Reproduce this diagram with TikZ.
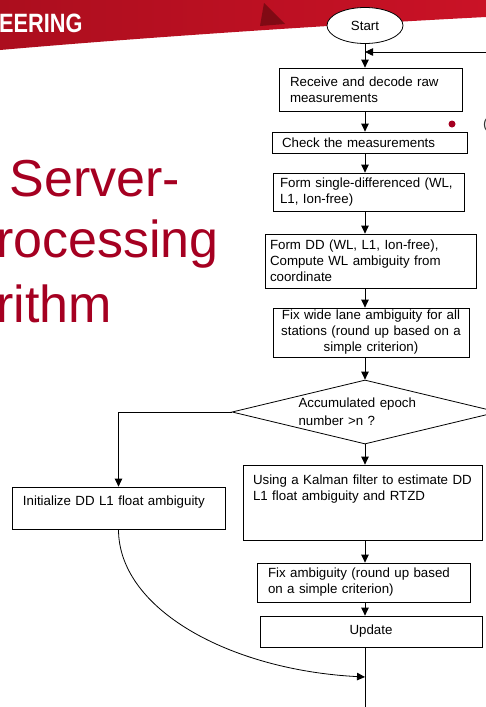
\documentclass[tikz,border=0pt]{standalone}
\usepackage{fontspec}
\setmainfont{Liberation Sans}
\usetikzlibrary{shapes.geometric, arrows.meta}

\definecolor{bannerred}{RGB}{202,18,38}
\definecolor{bannerleft}{RGB}{172,14,30}
\definecolor{bannerdark}{RGB}{128,10,20}
\definecolor{titlered}{RGB}{165,0,33}

\begin{document}
\begin{tikzpicture}[x = 1pt, y = 1pt,
	box/.style = {draw, rectangle, fill = white, line width = 0.8pt, inner sep = 0pt, align = left, font = \fontsize{13.3}{16}\selectfont},
	flow/.style = {line width = 0.8pt, -{Triangle[length = 8pt, width = 7.5pt]}},
	heading/.style = {anchor = base west, inner sep = 0pt, text = titlered, font = \fontsize{52}{60}\selectfont}]
	\useasboundingbox (0, 0) rectangle (486, -707);
	% slide banner and title
	\shade[left color = bannerleft, right color = bannerred] (0, 0) -- (486, 0) -- (486, -17) .. controls (350, -24) and (160, -36) .. (0, -50) -- cycle;
	\fill[bannerdark] (264, -3) -- (285, -24) -- (260, -26) -- cycle;
	\node[anchor = base west, inner sep = 0pt, text = white, font = \fontsize{26.5}{30}\selectfont\bfseries, xscale = 0.82, transform shape] (brand) at (-1, -32) {EERING};
	\node[heading] (title1) at (9.5, -196) {Server-};
	\node[heading] (title2) at (-4, -257) {rocessing};
	\node[heading] (title3) at (-4, -322) {rithm};
	\fill[titlered] (452, -124) circle (3.5);
	\node[anchor = base west, inner sep = 0pt, text = black!80, font = \fontsize{14}{16}\selectfont] (bullet) at (483, -128) {(};

	% flow chart
	\node[box, shape = ellipse, align = center, minimum width = 76pt, minimum height = 36pt] (start) at (365, -25.5) {Start};
	\node[box, minimum width = 183pt, minimum height = 43pt, text width = 161pt] (recv) at (370.5, -89.5) {Receive and decode raw\\measurements};
	\node[box, minimum width = 195pt, minimum height = 21pt, text width = 175pt] (chk) at (369.5, -142.5) {Check the measurements};
	\node[box, minimum width = 191pt, minimum height = 38pt, text width = 177pt] (sd) at (368.5, -192) {Form single-differenced (WL,\\L1, Ion-free)};
	\node[box, minimum width = 211pt, minimum height = 54pt, text width = 201pt] (dd) at (370.5, -261) {Form DD (WL, L1, Ion-free),\\Compute WL ambiguity from\\coordinate};
	\node[box, align = center, minimum width = 196pt, minimum height = 49pt, text width = 188pt] (fixwl) at (371, -332.5) {Fix wide lane ambiguity for all\\stations (round up based on a\\simple criterion)};
	\node[box, shape = diamond, aspect = 4, minimum width = 266pt, minimum height = 64pt, text width = 133pt, font = \fontsize{13.3}{18}\selectfont] (epoch) at (365, -412) {Accumulated epoch\\number >n ?};
	\node[box, minimum width = 213pt, minimum height = 42pt, text width = 191pt, text depth = 14.7pt] (init) at (118.5, -508) {Initialize DD L1 float ambiguity};
	\node[box, minimum width = 239pt, minimum height = 75pt, text width = 219pt, text depth = 44.7pt] (kalman) at (362.5, -502.5) {Using a Kalman filter to estimate DD\\L1 float ambiguity and RTZD};
	\node[box, minimum width = 213pt, minimum height = 39pt, text width = 191pt] (fixamb) at (363.5, -582.5) {Fix ambiguity (round up based\\on a simple criterion)};
	\node[box, align = center, minimum width = 222pt, minimum height = 31pt] (update) at (371, -631.5) {Update};

	\coordinate (loop) at (490, -52);
	\coordinate (join) at (365, -677);
	\coordinate (exit) at (365, -712);

	\draw[flow] (loop) -- (loop -| start);
	\draw[flow] (start) -- (start |- recv.north);
	\draw[flow] (recv.south -| start) -- (chk.north -| start);
	\draw[flow] (chk.south -| start) -- (sd.north -| start);
	\draw[flow] (sd.south -| start) -- (dd.north -| start);
	\draw[flow] (dd.south -| start) -- (fixwl.north -| start);
	\draw[flow] (fixwl.south -| start) -- (epoch.north);
	\draw[flow] (epoch.west) -| (init.north);
	\draw[flow] (epoch.south) -- (kalman.north -| start);
	\draw[flow] (kalman.south -| start) -- (fixamb.north -| start);
	\draw[flow] (fixamb.south -| start) -- (update.north -| start);
	\draw[line width = 0.8pt] (update.south -| start) -- (exit);
	\draw[flow] (init.south) .. controls +(0, -80) and +(-135, 7) .. (join);
\end{tikzpicture}
\end{document}
